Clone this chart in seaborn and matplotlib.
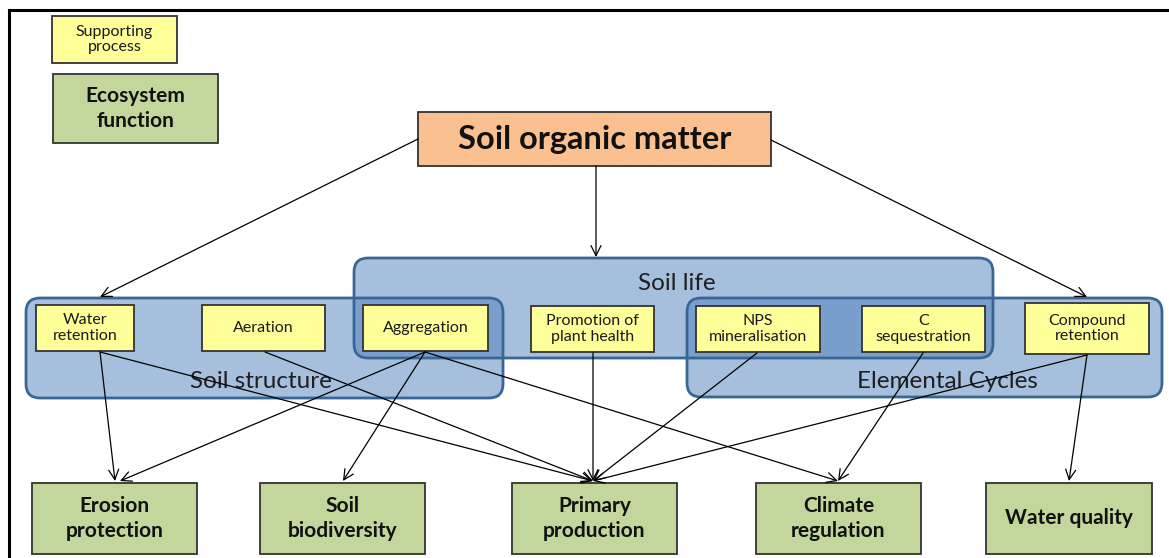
import matplotlib
matplotlib.use("Agg")
import matplotlib.pyplot as plt
import seaborn as sns
from matplotlib.patches import FancyBboxPatch, Rectangle

sns.set_theme(style="white")
plt.rcParams['font.family'] = ['Lato', 'DejaVu Sans']

# --- diagram content ---
source = "Soil organic matter"
groups = ["Soil structure", "Soil life", "Elemental Cycles"]
processes = ["Water\nretention", "Aeration", "Aggregation", "Promotion of\nplant health",
             "NPS\nmineralisation", "C\nsequestration", "Compound\nretention"]
functions = ["Erosion\nprotection", "Soil\nbiodiversity", "Primary\nproduction",
             "Climate\nregulation", "Water quality"]
legend_labels = ["Supporting\nprocess", "Ecosystem\nfunction"]

# links process index -> function index
proc_to_func = [(0, 0), (0, 2), (1, 2), (2, 0), (2, 1), (2, 3),
                (3, 2), (4, 2), (5, 3), (6, 2), (6, 4)]

# --- layout in pixel space (x0, y0, x1, y1) ---
source_box = (418, 112, 771, 166)
group_boxes = [(26, 298, 503, 398), (354, 258, 993, 358), (687, 298, 1162, 397)]
group_text = [(261, 381), (677, 283), (947, 381)]
proc_boxes = [(36, 305, 134, 351), (202, 305, 325, 351), (363, 305, 488, 351),
              (531, 306, 654, 352), (696, 306, 820, 352), (862, 306, 985, 352),
              (1025, 303, 1149, 354)]
proc_out_x = [100, 265, 425, 593, 757, 923, 1087]
func_boxes = [(32, 483, 197, 554), (260, 483, 425, 554), (512, 483, 677, 554),
              (756, 483, 921, 554), (986, 483, 1152, 554)]
func_in_x = [[115, 120], [343], [593], [838], [1069]]
legend_boxes = [(52, 16, 177, 63), (53, 74, 218, 143)]

yellow = "#FFFF99"
green = "#C3D69B"
orange = "#FAC090"
blue = "#4F81BD"
edge = "#333333"

fig = plt.figure(figsize=(11.69, 5.58), dpi=100)
ax = fig.add_axes([0, 0, 1, 1])
ax.set_xlim(0, 1169)
ax.set_ylim(558, 0)
ax.axis("off")

# outer frame
ax.plot([9, 9], [558, 10], color="black", lw=2.2, solid_capstyle="projecting")
ax.plot([9, 1169], [10, 10], color="black", lw=2.2, solid_capstyle="projecting")


def rect(b, fc, lw=1.3, z=3):
    ax.add_patch(Rectangle((b[0], b[1]), b[2] - b[0], b[3] - b[1],
                           facecolor=fc, edgecolor=edge, lw=lw, zorder=z))


def arrow(p0, p1):
    ax.annotate("", xy=p1, xytext=p0, zorder=4,
                arrowprops=dict(arrowstyle="->,head_length=0.6,head_width=0.3",
                                mutation_scale=12, color="black", lw=0.9,
                                shrinkA=0, shrinkB=0))


# group containers (semi-transparent so overlaps darken)
for b, name, (tx, ty) in zip(group_boxes, groups, group_text):
    ax.add_patch(FancyBboxPatch((b[0], b[1]), b[2] - b[0], b[3] - b[1],
                                boxstyle="round,pad=0,rounding_size=14",
                                facecolor=blue, alpha=0.5, edgecolor="none", zorder=1))
    ax.add_patch(FancyBboxPatch((b[0], b[1]), b[2] - b[0], b[3] - b[1],
                                boxstyle="round,pad=0,rounding_size=14",
                                facecolor="none", edgecolor="#3A6696", lw=2.0, zorder=2))
    ax.text(tx, ty, name, ha="center", va="center", fontsize=17.5, color="#1F1F1F", zorder=2)

# source box
rect(source_box, orange)
ax.text((source_box[0] + source_box[2]) / 2, (source_box[1] + source_box[3]) / 2, source,
        ha="center", va="center", fontsize=23.5, fontweight="bold", color="#111111", zorder=5)

# supporting processes
for b, name in zip(proc_boxes, processes):
    rect(b, yellow)
    ax.text((b[0] + b[2]) / 2, (b[1] + b[3]) / 2, name, ha="center", va="center",
            fontsize=11.5, linespacing=1.15, color="#1A1A1A", zorder=5)

# ecosystem functions
for b, name in zip(func_boxes, functions):
    rect(b, green)
    ax.text((b[0] + b[2]) / 2, (b[1] + b[3]) / 2, name, ha="center", va="center",
            fontsize=15, fontweight="bold", linespacing=1.3, color="#111111", zorder=5)

# legend boxes
rect(legend_boxes[0], yellow)
ax.text(114.5, 39.5, legend_labels[0], ha="center", va="center", fontsize=11.5,
        linespacing=1.15, color="#1A1A1A", zorder=5)
rect(legend_boxes[1], green)
ax.text(135.5, 108.5, legend_labels[1], ha="center", va="center", fontsize=15,
        fontweight="bold", linespacing=1.3, color="#111111", zorder=5)

# arrows from soil organic matter
sy = (source_box[1] + source_box[3]) / 2
arrow((source_box[0], sy), (proc_out_x[0], proc_boxes[0][1] - 8))
arrow((596, source_box[3]), (596, group_boxes[1][1] - 1))
arrow((source_box[2], sy + 1), (proc_out_x[6], proc_boxes[6][1] - 6))

# arrows from processes to functions
used = {}
for p, f in proc_to_func:
    k = used.get(f, 0)
    xs = func_in_x[f]
    x_end = xs[min(k, len(xs) - 1)]
    used[f] = k + 1
    arrow((proc_out_x[p], proc_boxes[p][3] + 1), (x_end, func_boxes[f][1] - 2))

fig.savefig("out.png", dpi=100, facecolor="white")
